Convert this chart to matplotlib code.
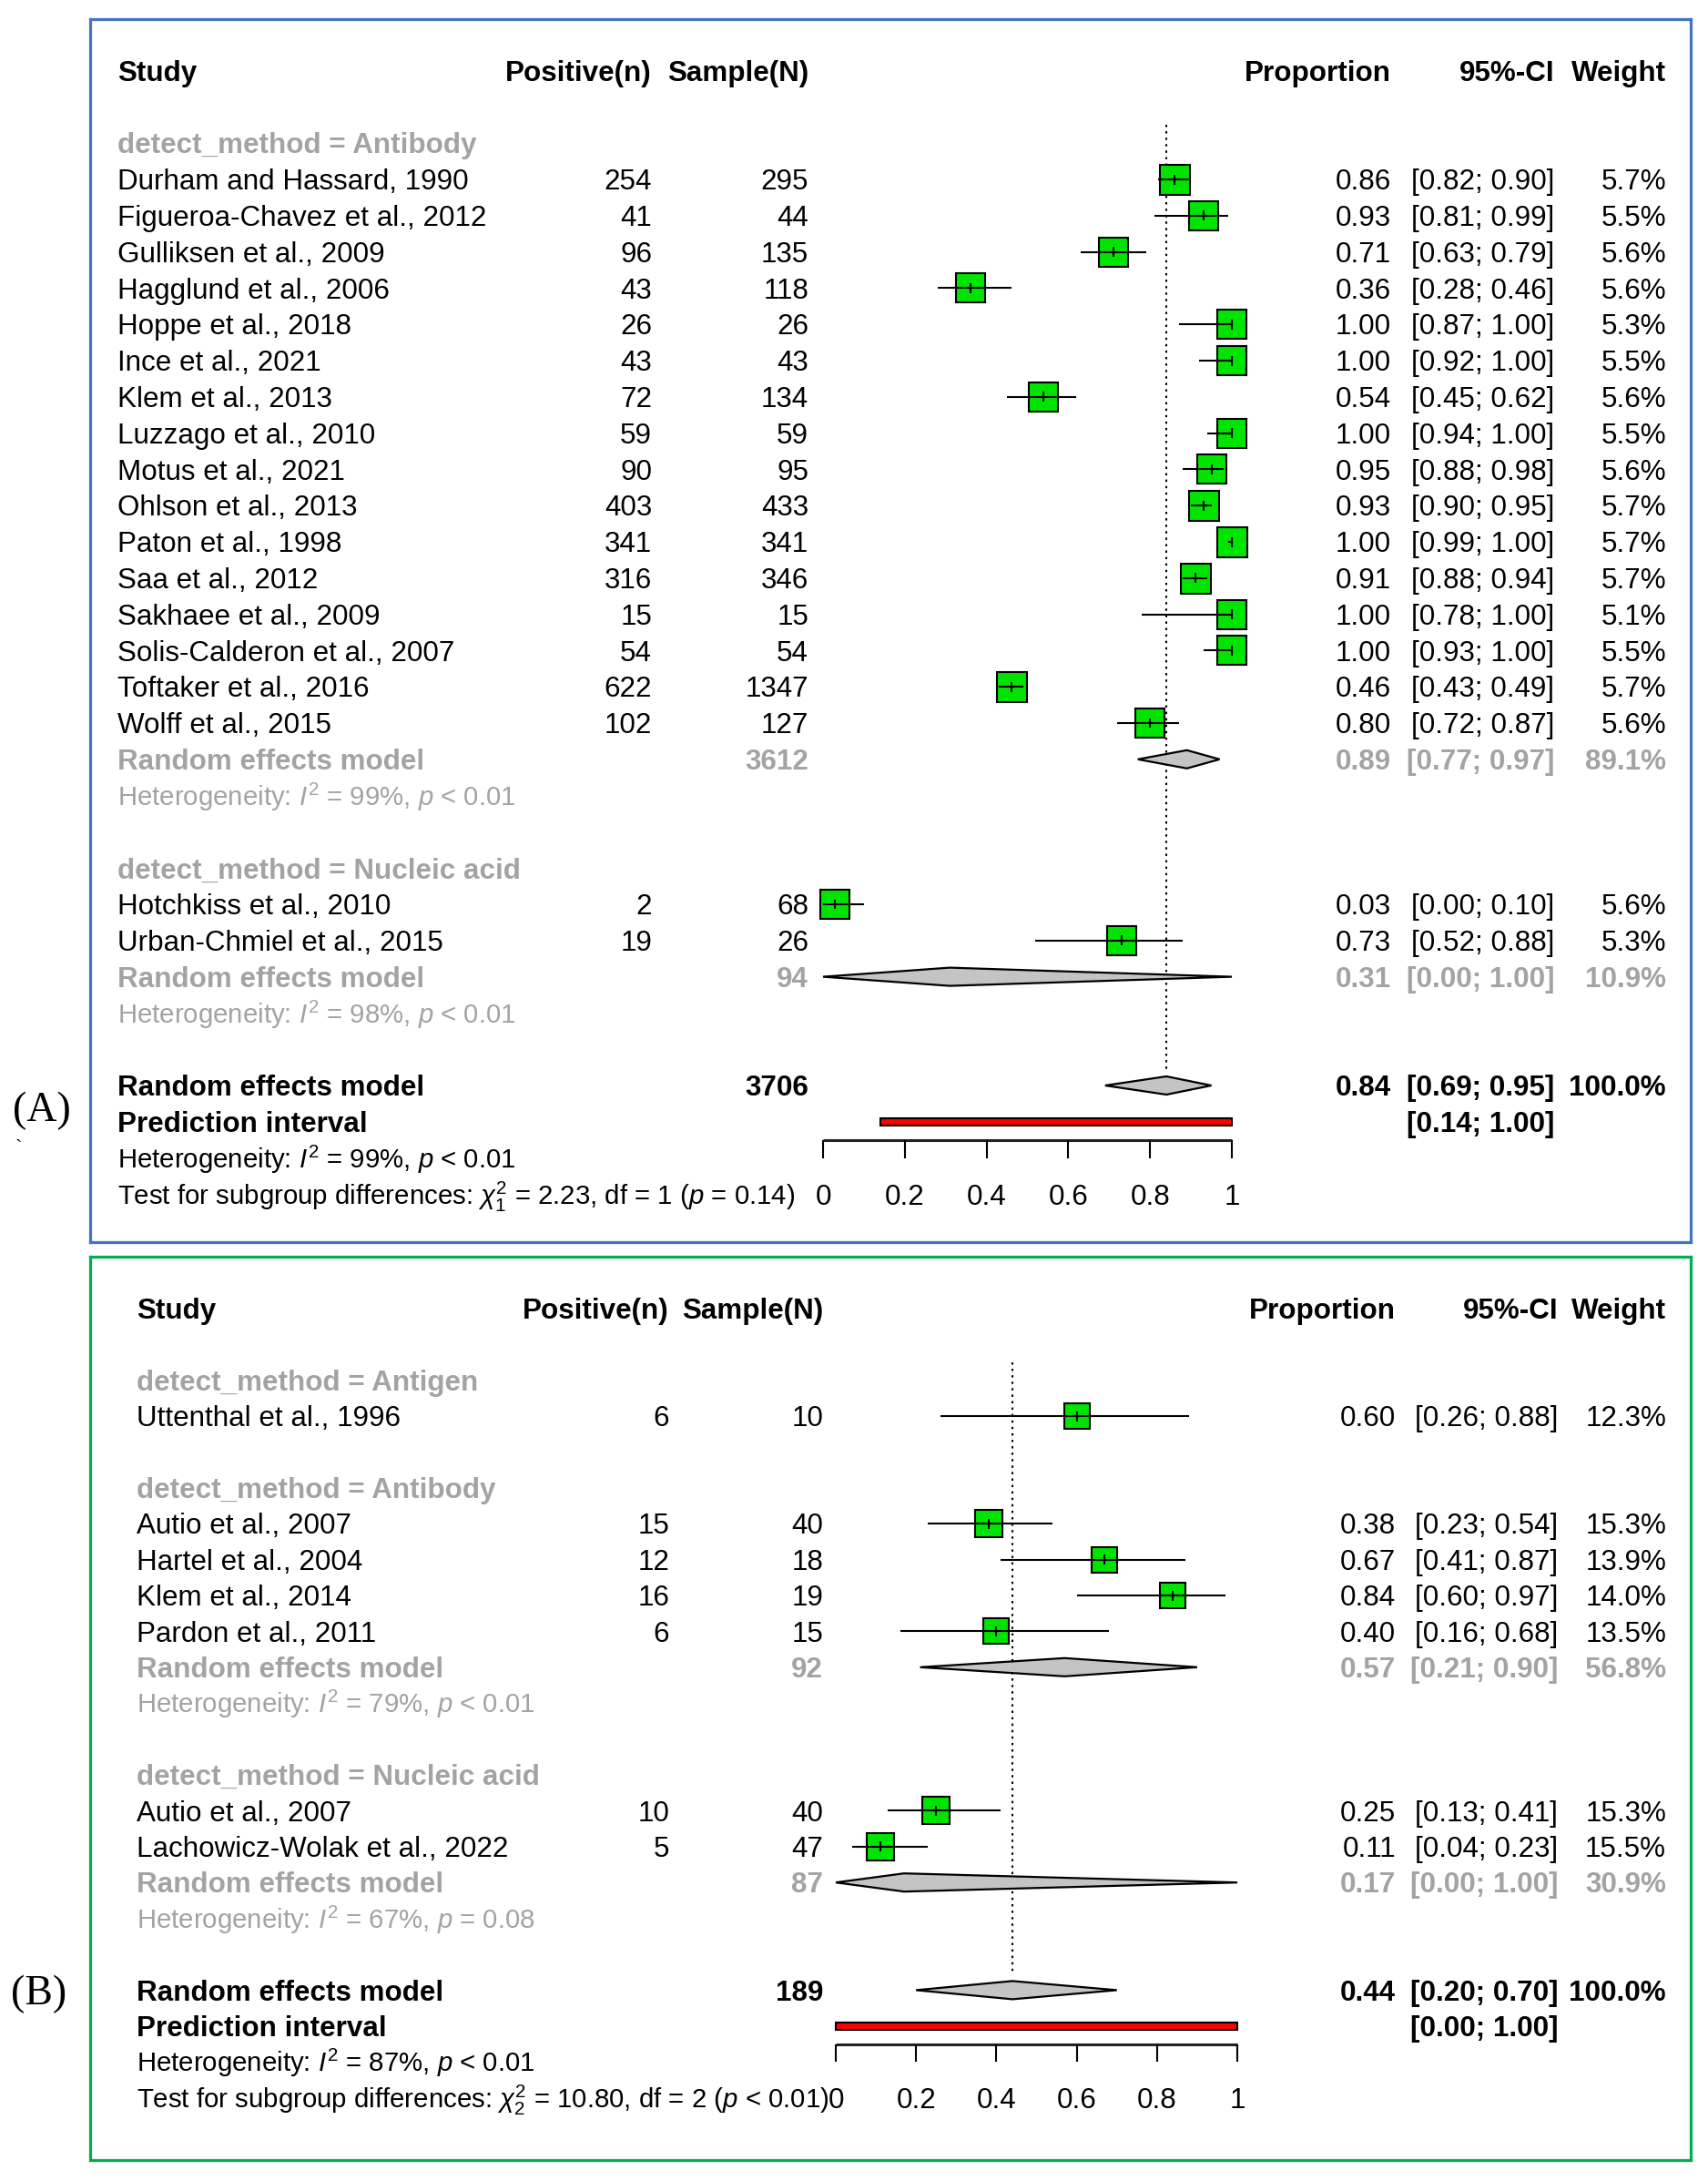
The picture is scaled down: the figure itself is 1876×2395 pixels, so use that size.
import matplotlib
matplotlib.use("Agg")
import matplotlib.pyplot as plt
from matplotlib.patches import Polygon
import numpy as np

plt.rcParams['font.family'] = ['Liberation Sans', 'DejaVu Sans']
plt.rcParams['mathtext.fontset'] = 'custom'
plt.rcParams['mathtext.rm'] = 'Liberation Sans'
plt.rcParams['mathtext.it'] = 'Liberation Sans:italic'
plt.rcParams['mathtext.bf'] = 'Liberation Sans:bold'

# ---------------- DATA : panel A ----------------
a_ab_studies = ["Durham and Hassard, 1990", "Figueroa-Chavez et al., 2012", "Gulliksen et al., 2009",
                "Hagglund et al., 2006", "Hoppe et al., 2018", "Ince et al., 2021", "Klem et al., 2013",
                "Luzzago et al., 2010", "Motus et al., 2021", "Ohlson et al., 2013", "Paton et al., 1998",
                "Saa et al., 2012", "Sakhaee et al., 2009", "Solis-Calderon et al., 2007",
                "Toftaker et al., 2016", "Wolff et al., 2015"]
a_ab_pos = [254, 41, 96, 43, 26, 43, 72, 59, 90, 403, 341, 316, 15, 54, 622, 102]
a_ab_n = [295, 44, 135, 118, 26, 43, 134, 59, 95, 433, 341, 346, 15, 54, 1347, 127]
a_ab_prop = [0.86, 0.93, 0.71, 0.36, 1.00, 1.00, 0.54, 1.00, 0.95, 0.93, 1.00, 0.91, 1.00, 1.00, 0.46, 0.80]
a_ab_lo = [0.82, 0.81, 0.63, 0.28, 0.87, 0.92, 0.45, 0.94, 0.88, 0.90, 0.99, 0.88, 0.78, 0.93, 0.43, 0.72]
a_ab_hi = [0.90, 0.99, 0.79, 0.46, 1.00, 1.00, 0.62, 1.00, 0.98, 0.95, 1.00, 0.94, 1.00, 1.00, 0.49, 0.87]
a_ab_w = [5.7, 5.5, 5.6, 5.6, 5.3, 5.5, 5.6, 5.5, 5.6, 5.7, 5.7, 5.7, 5.1, 5.5, 5.7, 5.6]
a_ab_rem = (3612, 0.89, 0.77, 0.97, 89.1)
a_ab_het = ("99%", "< 0.01")

a_na_studies = ["Hotchkiss et al., 2010", "Urban-Chmiel et al., 2015"]
a_na_pos = [2, 19]
a_na_n = [68, 26]
a_na_prop = [0.03, 0.73]
a_na_lo = [0.00, 0.52]
a_na_hi = [0.10, 0.88]
a_na_w = [5.6, 5.3]
a_na_rem = (94, 0.31, 0.00, 1.00, 10.9)
a_na_het = ("98%", "< 0.01")

a_overall = (3706, 0.84, 0.69, 0.95, 100.0)
a_pi = (0.14, 1.00)
a_het = ("99%", "< 0.01")
a_test = ("1", "2.23", "1", "= 0.14")

# ---------------- DATA : panel B ----------------
b_ag_studies = ["Uttenthal et al., 1996"]
b_ag_pos = [6]
b_ag_n = [10]
b_ag_prop = [0.60]
b_ag_lo = [0.26]
b_ag_hi = [0.88]
b_ag_w = [12.3]

b_ab_studies = ["Autio et al., 2007", "Hartel et al., 2004", "Klem et al., 2014", "Pardon et al., 2011"]
b_ab_pos = [15, 12, 16, 6]
b_ab_n = [40, 18, 19, 15]
b_ab_prop = [0.38, 0.67, 0.84, 0.40]
b_ab_lo = [0.23, 0.41, 0.60, 0.16]
b_ab_hi = [0.54, 0.87, 0.97, 0.68]
b_ab_w = [15.3, 13.9, 14.0, 13.5]
b_ab_rem = (92, 0.57, 0.21, 0.90, 56.8)
b_ab_het = ("79%", "< 0.01")

b_na_studies = ["Autio et al., 2007", "Lachowicz-Wolak et al., 2022"]
b_na_pos = [10, 5]
b_na_n = [40, 47]
b_na_prop = [0.25, 0.11]
b_na_lo = [0.13, 0.04]
b_na_hi = [0.41, 0.23]
b_na_w = [15.3, 15.5]
b_na_rem = (87, 0.17, 0.00, 1.00, 30.9)
b_na_het = ("67%", "= 0.08")

b_overall = (189, 0.44, 0.20, 0.70, 100.0)
b_pi = (0.00, 1.00)
b_het = ("87%", "< 0.01")
b_test = ("2", "10.80", "2", "< 0.01")

axis_ticks = [0, 0.2, 0.4, 0.6, 0.8, 1]
axis_ticklabels = ["0", "0.2", "0.4", "0.6", "0.8", "1"]

headers = ["Study", "Positive(n)", "Sample(N)", "Proportion", "95%-CI", "Weight"]

panel_a_groups = [
    ("Antibody", a_ab_studies, a_ab_pos, a_ab_n, a_ab_prop, a_ab_lo, a_ab_hi, a_ab_w, a_ab_rem, a_ab_het),
    ("Nucleic acid", a_na_studies, a_na_pos, a_na_n, a_na_prop, a_na_lo, a_na_hi, a_na_w, a_na_rem, a_na_het),
]
panel_b_groups = [
    ("Antigen", b_ag_studies, b_ag_pos, b_ag_n, b_ag_prop, b_ag_lo, b_ag_hi, b_ag_w, None, None),
    ("Antibody", b_ab_studies, b_ab_pos, b_ab_n, b_ab_prop, b_ab_lo, b_ab_hi, b_ab_w, b_ab_rem, b_ab_het),
    ("Nucleic acid", b_na_studies, b_na_pos, b_na_n, b_na_prop, b_na_lo, b_na_hi, b_na_w, b_na_rem, b_na_het),
]

# ---------------- LAYOUT ----------------
W, H = 1876, 2395
DPI = 100
fig = plt.figure(figsize=(W / DPI, H / DPI), dpi=DPI)
fig.patch.set_facecolor('white')

FS = 22.6
FS_HET = 21.2
GRAY = '#A3A3A3'
GREEN = '#00E400'
DIAM = '#C4C4C4'


def fmt2(v):
    return f"{v:.2f}"


def draw_panel(box, zero_px, one_px, base_px, sp, cols, groups, overall, pi, het, test,
               edge, sq_ref):
    x0, y0, x1, y1 = box
    scale = one_px - zero_px
    ax = fig.add_axes([x0 / W, 1 - y1 / H, (x1 - x0) / W, (y1 - y0) / H])
    ax.set_xlim((x0 - zero_px) / scale, (x1 - zero_px) / scale)
    ax.set_ylim((y1 - base_px) / sp, (y0 - base_px) / sp)
    ax.set_xticks([])
    ax.set_yticks([])
    for s in ax.spines.values():
        s.set_color(edge)
        s.set_linewidth(2.3)

    def cx(px):
        return (px - zero_px) / scale

    c_study, c_pos, c_n, c_prop, c_ci, c_w = [cx(c) for c in cols]
    off = 11.2 / sp  # baseline offset below row centre

    def txt(x, k, s, ha='left', color='black', weight='normal', size=FS):
        ax.text(x, k + off, s, ha=ha, va='baseline', color=color,
                fontweight=weight, fontsize=size)

    def row_values(k, n_txt, est, lo, hi, w, color, weight, pos_txt=None):
        if pos_txt is not None:
            txt(c_pos, k, pos_txt, 'right', color, weight)
        if n_txt is not None:
            txt(c_n, k, n_txt, 'right', color, weight)
        txt(c_prop, k, fmt2(est), 'right', color, weight)
        txt(c_ci, k, f"[{fmt2(lo)}; {fmt2(hi)}]", 'right', color, weight)
        txt(c_w, k, f"{w:.1f}%", 'right', color, weight)

    def diamond(k, est, lo, hi):
        h = 10.0 / sp
        ax.add_patch(Polygon([[lo, k], [est, k - h], [hi, k], [est, k + h]], closed=True,
                             facecolor=DIAM, edgecolor='black', lw=1.6, zorder=4))

    # header row
    k = -3
    for c, lab, ha in zip([c_study, c_pos, c_n, c_prop, c_ci, c_w], headers,
                          ['left', 'right', 'right', 'right', 'right', 'right']):
        txt(c, k, lab, ha, 'black', 'bold')

    k = -1
    for (gname, studies, pos, n, prop, lo, hi, w, rem, ghet) in groups:
        txt(c_study, k, f"detect_method = {gname}", 'left', GRAY, 'bold')
        k += 1
        for i in range(len(studies)):
            txt(c_study, k, studies[i])
            row_values(k, str(n[i]), prop[i], lo[i], hi[i], w[i], 'black', 'normal', str(pos[i]))
            side_pt = sq_ref[0] * np.sqrt(w[i] / sq_ref[1]) * 72.0 / DPI
            ax.plot([prop[i]], [k], marker='s', ms=side_pt, mfc=GREEN, mec='black',
                    mew=1.5, ls='none', zorder=3)
            ax.hlines(k, lo[i], hi[i], color='black', lw=1.5, zorder=5)
            ax.vlines(prop[i], k - 5.5 / sp, k + 5.5 / sp, color='black', lw=1.5, zorder=5)
            k += 1
        if rem is not None:
            txt(c_study, k, "Random effects model", 'left', GRAY, 'bold')
            row_values(k, str(rem[0]), rem[1], rem[2], rem[3], rem[4], GRAY, 'bold')
            diamond(k, rem[1], rem[2], rem[3])
            k += 1
            txt(c_study, k, f"Heterogeneity: $I^2$ = {ghet[0]}, $p$ {ghet[1]}", 'left', GRAY,
                'normal', FS_HET)
            k += 1
        k += 1

    # overall
    k_over = k
    txt(c_study, k, "Random effects model", 'left', 'black', 'bold')
    row_values(k, str(overall[0]), overall[1], overall[2], overall[3], overall[4], 'black', 'bold')
    diamond(k, overall[1], overall[2], overall[3])
    # reference line
    ax.vlines(overall[1], -1.5, k_over - 0.45, color='black', lw=1.5, linestyles=(0, (1.2, 2.2)),
              zorder=2)
    k += 1
    txt(c_study, k, "Prediction interval", 'left', 'black', 'bold')
    txt(c_ci, k, f"[{fmt2(pi[0])}; {fmt2(pi[1])}]", 'right', 'black', 'bold')
    ax.barh(k, pi[1] - pi[0], left=pi[0], height=8.0 / sp, color='#FF0000',
            edgecolor='black', lw=1.5, zorder=4)
    k_axis = k + 0.5
    ax.hlines(k_axis, axis_ticks[0], axis_ticks[-1], color='#222222', lw=2.2, zorder=3)
    ax.vlines(axis_ticks, k_axis, k_axis + 0.5, color='black', lw=1.5, zorder=3)
    k += 1
    txt(c_study, k, f"Heterogeneity: $I^2$ = {het[0]}, $p$ {het[1]}", 'left', 'black',
        'normal', FS_HET)
    k += 1
    txt(c_study, k, "Test for subgroup differences: $\\chi^2_{%s}$ = %s, df = %s ($p$ %s)"
        % test, 'left', 'black', 'normal', FS_HET)
    for t, lab in zip(axis_ticks, axis_ticklabels):
        txt(t, k, lab, 'center', 'black', 'normal')
    return ax


draw_panel((99, 21, 1857, 1364), 904, 1353, 197, 39.8,
           (129, 716, 888, 1528, 1707, 1830), panel_a_groups,
           a_overall, a_pi, a_het, a_test, '#4472C4', (33.0, 5.7))

draw_panel((99, 1380, 1857, 2372), 918, 1359, 1555, 39.4,
           (150, 735, 904, 1533, 1711, 1830), panel_b_groups,
           b_overall, b_pi, b_het, b_test, '#00B050', (30.5, 15.5))

# panel labels
fig.text(46 / W, 1 - 1220 / H, "(A)", ha='center', va='center', fontsize=33,
         family=['Liberation Serif', 'DejaVu Serif'])
fig.text(20 / W, 1 - 1262 / H, "`", ha='center', va='center', fontsize=16,
         family=['Liberation Serif', 'DejaVu Serif'])
fig.text(43 / W, 1 - 2190 / H, "(B)", ha='center', va='center', fontsize=33,
         family=['Liberation Serif', 'DejaVu Serif'])

fig.savefig("out.png", dpi=DPI, facecolor='white')
